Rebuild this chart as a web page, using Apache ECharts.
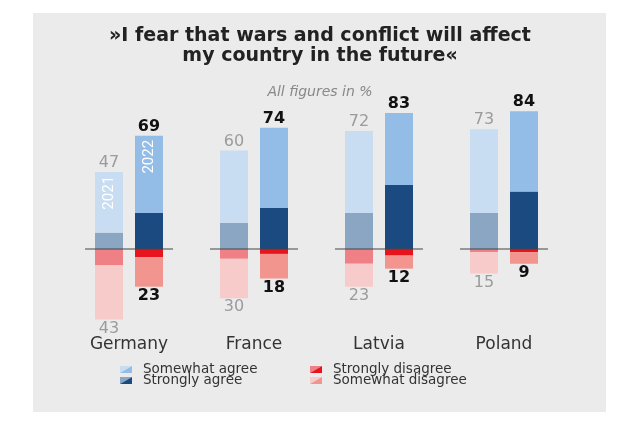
<!DOCTYPE html>
<html>
<head>
    <meta charset="utf-8">
    <title>War fear survey</title>
    <script src="https://cdn.jsdelivr.net/npm/echarts@6/dist/echarts.min.js"></script>
    <style>
        html, body { margin: 0; padding: 0; background: #fff; }
    </style>
</head>
<body>
    <div id="main" style="width: 640px;height:426px;"></div>
    <script>
        // values, in %
        var countries = ['Germany', 'France', 'Latvia', 'Poland'];
        var years = ['2021', '2022'];

        var strongAgree2021 = [10, 16, 22, 22];
        var someAgree2021 = [37, 44, 50, 51];
        var strongDisagree2021 = [10, 6, 9, 2];
        var someDisagree2021 = [33, 24, 14, 13];
        var agreeTotal2021 = [47, 60, 72, 73];
        var disagreeTotal2021 = [43, 30, 23, 15];

        var strongAgree2022 = [22, 25, 39, 35];
        var someAgree2022 = [47, 49, 44, 49];
        var strongDisagree2022 = [5, 3, 4, 2];
        var someDisagree2022 = [18, 15, 8, 7];
        var agreeTotal2022 = [69, 74, 83, 84];
        var disagreeTotal2022 = [23, 18, 12, 9];

        var legendNames = ['Somewhat agree', 'Strongly agree', 'Strongly disagree', 'Somewhat disagree'];

        var BAR_W = 28, BAR_GAP = 12;
        var FONT = 'DejaVu Sans';

        var colors = {
            someAgree: ['#c9ddf2', '#93bce6'],
            strongAgree: ['#8aa6c2', '#1a4a7f'],
            strongDisagree: ['#ef8085', '#e8141d'],
            someDisagree: ['#f8cbcb', '#f2958f']
        };

        function neg(arr) { return arr.map(function (v) { return -v; }); }

        var myChart = echarts.init(document.getElementById('main'));

        function totalLabel(arr, pos, yi) {
            return {
                show: true,
                position: pos,
                distance: 1,
                fontFamily: FONT,
                fontSize: 16,
                fontWeight: yi === 1 ? 'bold' : 'normal',
                color: yi === 1 ? '#111' : '#9b9b9b',
                formatter: function (p) { return arr[p.dataIndex]; }
            };
        }

        function barSeries(name, stack, data, color, label) {
            return {
                name: name,
                type: 'bar',
                stack: stack,
                barWidth: BAR_W,
                barGap: (BAR_GAP / BAR_W * 100) + '%',
                data: data,
                itemStyle: { color: color },
                label: label || { show: false },
                emphasis: { disabled: true }
            };
        }

        // legend icons: split diagonally, 2021 tone top-left, 2022 tone bottom-right
        function legendItem(x, y, cols, text) {
            var w = 12, h = 7;
            return {
                type: 'group',
                children: [
                    { type: 'polygon', shape: { points: [[x, y], [x + w, y], [x, y + h]] }, style: { fill: cols[0] } },
                    { type: 'polygon', shape: { points: [[x + w, y], [x + w, y + h], [x, y + h]] }, style: { fill: cols[1] } },
                    { type: 'text', x: x + 23, y: y + h / 2, style: { text: text, fontFamily: FONT, fontSize: 13.5, fill: '#333', verticalAlign: 'middle' } }
                ]
            };
        }

        var option = {
            backgroundColor: '#fff',
            animation: false,
            title: [{
                text: '»I fear that wars and conflict will affect\nmy country in the future«',
                left: 'center',
                top: 21,
                textStyle: { fontFamily: FONT, fontSize: 19, fontWeight: 'bold', color: '#222', lineHeight: 20, align: 'center' }
            }, {
                text: 'All figures in %',
                left: 'center',
                top: 80,
                textStyle: { fontFamily: FONT, fontSize: 14, fontStyle: 'italic', fontWeight: 'normal', color: '#888' }
            }],
            graphic: [
                { type: 'rect', z: -10, shape: { x: 33, y: 13, width: 573, height: 399 }, style: { fill: '#ebebeb' } },
                legendItem(120, 366, colors.someAgree, legendNames[0]),
                legendItem(120, 377, colors.strongAgree, legendNames[1]),
                legendItem(310, 366, colors.strongDisagree, legendNames[2]),
                legendItem(310, 377, colors.someDisagree, legendNames[3])
            ],
            grid: { left: 66.5, right: 73.5, top: 101.4, bottom: 95 },
            xAxis: {
                type: 'category',
                data: countries,
                axisLine: { show: false },
                axisTick: { show: false },
                axisLabel: { margin: 5, fontFamily: FONT, fontSize: 17, color: '#333' }
            },
            yAxis: {
                type: 'value',
                min: -50,
                max: 90,
                show: false,
                splitLine: { show: false }
            },
            series: [
                barSeries('Strongly agree 2021', '2021', strongAgree2021, colors.strongAgree[0]),
                barSeries('Somewhat agree 2021', '2021', someAgree2021, colors.someAgree[0], totalLabel(agreeTotal2021, 'top', 0)),
                barSeries('Strongly disagree 2021', '2021', neg(strongDisagree2021), colors.strongDisagree[0]),
                barSeries('Somewhat disagree 2021', '2021', neg(someDisagree2021), colors.someDisagree[0], totalLabel(disagreeTotal2021, 'bottom', 0)),
                barSeries('Strongly agree 2022', '2022', strongAgree2022, colors.strongAgree[1]),
                barSeries('Somewhat agree 2022', '2022', someAgree2022, colors.someAgree[1], totalLabel(agreeTotal2022, 'top', 1)),
                barSeries('Strongly disagree 2022', '2022', neg(strongDisagree2022), colors.strongDisagree[1]),
                barSeries('Somewhat disagree 2022', '2022', neg(someDisagree2022), colors.someDisagree[1], totalLabel(disagreeTotal2022, 'bottom', 1)),
                {
                    // zero line per country group + year tags in the first group
                    type: 'custom',
                    z: 10,
                    silent: true,
                    data: countries.map(function (c, i) { return [i, 0]; }),
                    renderItem: function (params, api) {
                        var i = api.value(0);
                        var c = api.coord([i, 0]);
                        var half = BAR_W + BAR_GAP / 2 + 10;
                        var children = [{
                            type: 'line',
                            shape: { x1: c[0] - half, y1: c[1], x2: c[0] + half, y2: c[1] },
                            style: { stroke: '#444', lineWidth: 1 }
                        }];
                        if (i === 0) {
                            var tops = [agreeTotal2021[0], agreeTotal2022[0]];
                            years.forEach(function (yr, k) {
                                var p = api.coord([i, tops[k]]);
                                var x = c[0] + (k === 0 ? -1 : 1) * (BAR_W + BAR_GAP) / 2;
                                children.push({
                                    type: 'text',
                                    x: x,
                                    y: p[1] + 4,
                                    rotation: Math.PI / 2,
                                    style: {
                                        text: yr,
                                        fontFamily: 'Liberation Sans Narrow, Roboto, sans-serif',
                                        fontSize: 15,
                                        fill: '#fff',
                                        align: 'right',
                                        verticalAlign: 'middle'
                                    }
                                });
                            });
                        }
                        return { type: 'group', children: children };
                    }
                }
            ]
        };
        myChart.setOption(option);
    </script>
</body>
</html>
